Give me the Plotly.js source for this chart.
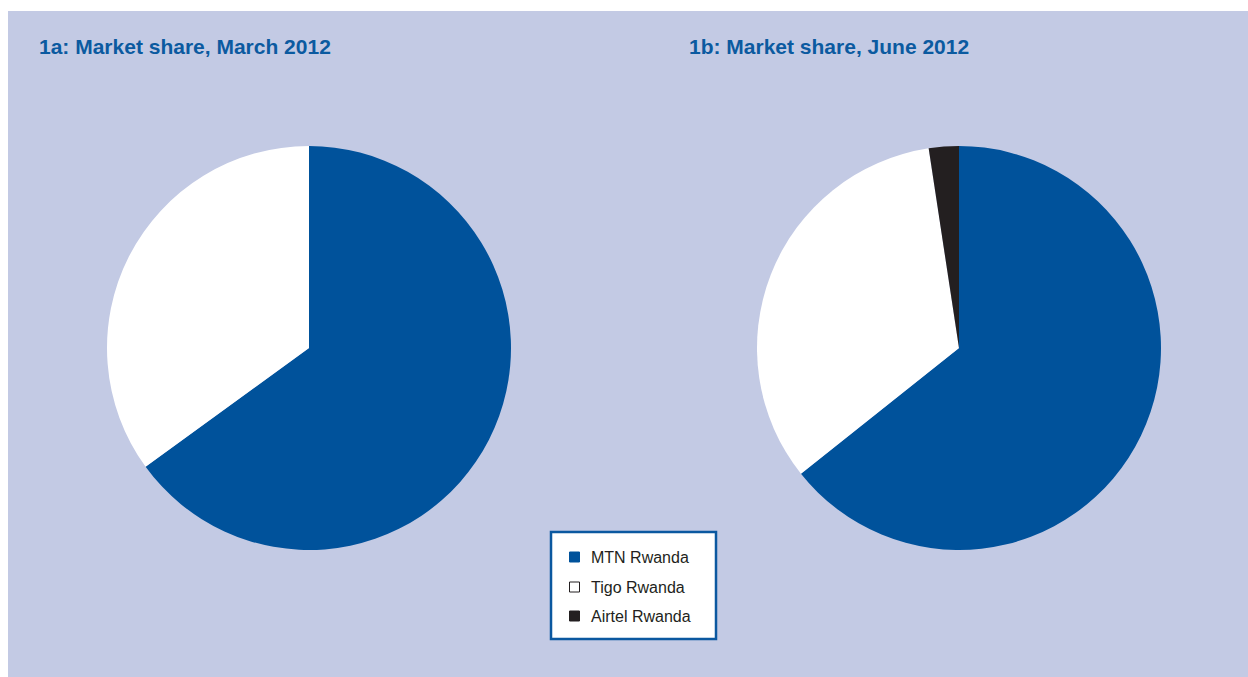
<!DOCTYPE html>
<html>
<head>
<meta charset="utf-8">
<script src="https://cdn.plot.ly/plotly-3.0.1.min.js"></script>
<style>html,body{margin:0;padding:0;background:#fff;}#chart{width:1248px;height:677px;}</style>
</head>
<body>
<div id="chart"></div>
<script>
const operators = ["MTN Rwanda", "Tigo Rwanda", "Airtel Rwanda"];
const shareMarch2012 = [65.0, 35.0, 0.0];
const shareJune2012 = [64.3, 33.3, 2.4];
const panelTitles = ["1a: Market share, March 2012", "1b: Market share, June 2012"];
const sliceColors = ["#00529b", "#ffffff", "#231f20"];
const legendOutline = ["#00529b", "#231f20", "#231f20"];

const W = 1248, H = 677;
const px = v => v / W, py = v => 1 - v / H;

const traces = [
  {
    type: "pie", labels: operators, values: shareMarch2012, sort: false,
    direction: "clockwise", rotation: 0, textinfo: "none", hoverinfo: "label+percent",
    marker: {colors: sliceColors, line: {width: 0}},
    domain: {x: [px(107), px(511)], y: [py(550), py(146)]},
    showlegend: false
  },
  {
    type: "pie", labels: operators, values: shareJune2012, sort: false,
    direction: "clockwise", rotation: 0, textinfo: "none", hoverinfo: "label+percent",
    marker: {colors: sliceColors, line: {width: 0}},
    domain: {x: [px(757), px(1161)], y: [py(550), py(146)]},
    showlegend: false
  }
];

const shapes = [
  {type: "rect", xref: "paper", yref: "paper", x0: px(8), x1: 1, y0: 0, y1: py(11),
   fillcolor: "#c3cae4", line: {width: 0}, layer: "below"},
  {type: "rect", xref: "paper", yref: "paper", x0: px(551), x1: px(716), y0: py(639), y1: py(532),
   fillcolor: "#ffffff", line: {color: "#0b58a0", width: 2.5}, layer: "above"}
];
const annotations = panelTitles.map((t, i) => ({
  text: "<b>" + t + "</b>", xref: "paper", yref: "paper", x: px(i === 0 ? 37 : 687), y: py(47),
  xanchor: "left", yanchor: "middle", showarrow: false,
  font: {family: "Liberation Sans, Arial, sans-serif", size: 21, color: "#0b5aa0"}
}));
const legendRowY = [557, 587, 616];
operators.forEach((name, i) => {
  const cy = legendRowY[i];
  shapes.push({type: "rect", xref: "paper", yref: "paper",
    x0: px(569.5), x1: px(579.5), y0: py(cy + 5), y1: py(cy - 5),
    fillcolor: sliceColors[i], line: {color: legendOutline[i], width: 1}, layer: "above"});
  annotations.push({text: name, xref: "paper", yref: "paper", x: px(589), y: py(cy),
    xanchor: "left", yanchor: "middle", showarrow: false,
    font: {family: "Liberation Sans Narrow, Arial Narrow, Liberation Sans, sans-serif", size: 16, color: "#231f20"}});
});

const layout = {
  width: W, height: H,
  margin: {l: 0, r: 0, t: 0, b: 0},
  paper_bgcolor: "#ffffff",
  showlegend: false,
  shapes: shapes,
  annotations: annotations
};

Plotly.newPlot("chart", traces, layout, {displayModeBar: false, staticPlot: true});
</script>
</body>
</html>
